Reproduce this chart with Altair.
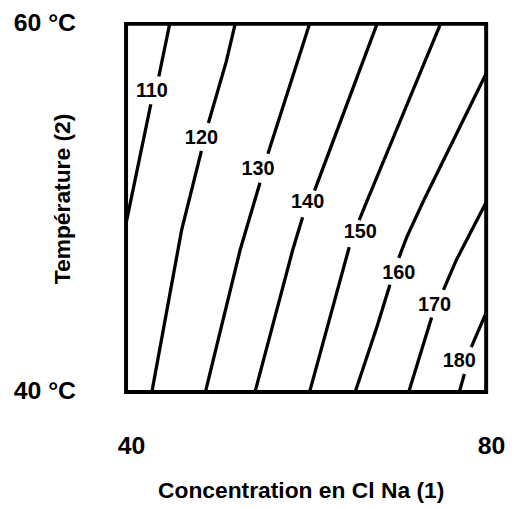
import altair as alt
import pandas as pd

# Contour levels (response values)
levels = [110, 120, 130, 140, 150, 160, 170, 180]

# Each contour is drawn as two pieces (above and below its label), in data units:
# x = Concentration en Cl Na (40..80), y = Température (40..60 °C)
upper_x = [[44.85, 43.64], [52.12, 51.13, 49.15], [60.39, 55.76], [67.88, 60.94],
           [74.93, 66.78, 65.90], [80.0, 73.06, 71.18, 70.30], [80.0, 76.69, 75.26], [80.0, 78.35]]
upper_y = [[60.0, 57.14], [60.0, 57.95, 54.61], [60.0, 52.94], [60.0, 50.94],
           [60.0, 50.40, 49.33], [57.30, 50.40, 48.41, 47.28], [50.30, 47.17, 45.55], [44.31, 42.43]]
lower_x = [[42.75, 40.0], [48.37, 46.17, 42.87], [54.88, 52.67, 48.82], [59.61, 58.51, 54.33],
           [64.79, 60.39], [69.31, 67.88, 65.45], [73.94, 71.40], [77.58, 77.02]]
lower_y = [[55.63, 49.16], [53.10, 48.79, 40.0], [51.37, 47.71, 40.0], [49.49, 47.71, 40.0],
           [47.87, 40.0], [45.82, 43.56, 40.0], [44.04, 40.0], [40.97, 40.0]]

# Label positions
label_x = [42.87, 48.37, 54.66, 60.17, 66.01, 70.30, 74.27, 77.02]
label_y = [56.33, 53.80, 52.13, 50.30, 48.68, 46.47, 44.74, 41.67]

x_ticks = [40, 80]
y_ticks = [40, 60]

rows = []
for i, lvl in enumerate(levels):
    for part, xs, ys in (("a", upper_x[i], upper_y[i]), ("b", lower_x[i], lower_y[i])):
        for j, (xv, yv) in enumerate(zip(xs, ys)):
            rows.append({"seg": f"{lvl}-{part}", "ord": j, "x": xv, "y": yv})
lines_df = pd.DataFrame(rows)
labels_df = pd.DataFrame({"x": label_x, "y": label_y, "label": [str(v) for v in levels]})

FONT = "Liberation Sans"

x_enc = alt.X(
    "x:Q",
    scale=alt.Scale(domain=[40, 80], nice=False, zero=False),
    axis=alt.Axis(
        values=x_ticks, title="Concentration en Cl Na (1)",
        grid=False, ticks=False, tickSize=0, domain=False,
        labelFont=FONT, labelFontSize=25, labelFontWeight="bold", labelColor="black",
        labelPadding=42, labelOffset=5, labelFlush=False, labelOverlap=False,
        titleFont=FONT, titleFontSize=23, titleFontWeight="bold", titleColor="black",
        titleX=176, titleY=88, titleAlign="center", titleBaseline="top",
    ),
)
y_enc = alt.Y(
    "y:Q",
    scale=alt.Scale(domain=[40, 60], nice=False, zero=False),
    axis=alt.Axis(
        values=y_ticks, title="Température (2)", labelExpr="datum.value + ' °C'",
        grid=False, ticks=False, tickSize=0, domain=False,
        labelFont=FONT, labelFontSize=25, labelFontWeight="bold", labelColor="black",
        labelPadding=51, labelOffset=-1, labelFlush=False, labelOverlap=False,
        titleFont=FONT, titleFontSize=23, titleFontWeight="bold", titleColor="black",
        titleX=-64, titleY=176, titleAngle=270, titleAlign="center", titleBaseline="middle",
    ),
)

lines = alt.Chart(lines_df).mark_line(color="black", strokeWidth=3.3).encode(
    x=x_enc, y=y_enc, detail="seg:N", order="ord:Q"
)

texts = alt.Chart(labels_df).mark_text(
    font=FONT, fontSize=20, fontWeight="bold", color="black"
).encode(x="x:Q", y="y:Q", text="label:N")

chart = (
    alt.layer(lines, texts)
    .properties(
        width=363, height=371,
        background="white",
        autosize=alt.AutoSizeParams(type="none"),
        padding={"left": 119, "top": 14, "right": 20, "bottom": 112},
    )
    .configure_view(stroke="black", strokeWidth=4, strokeOpacity=1)
)

chart.save("out.html", embed_options={"renderer": "svg", "actions": False})
